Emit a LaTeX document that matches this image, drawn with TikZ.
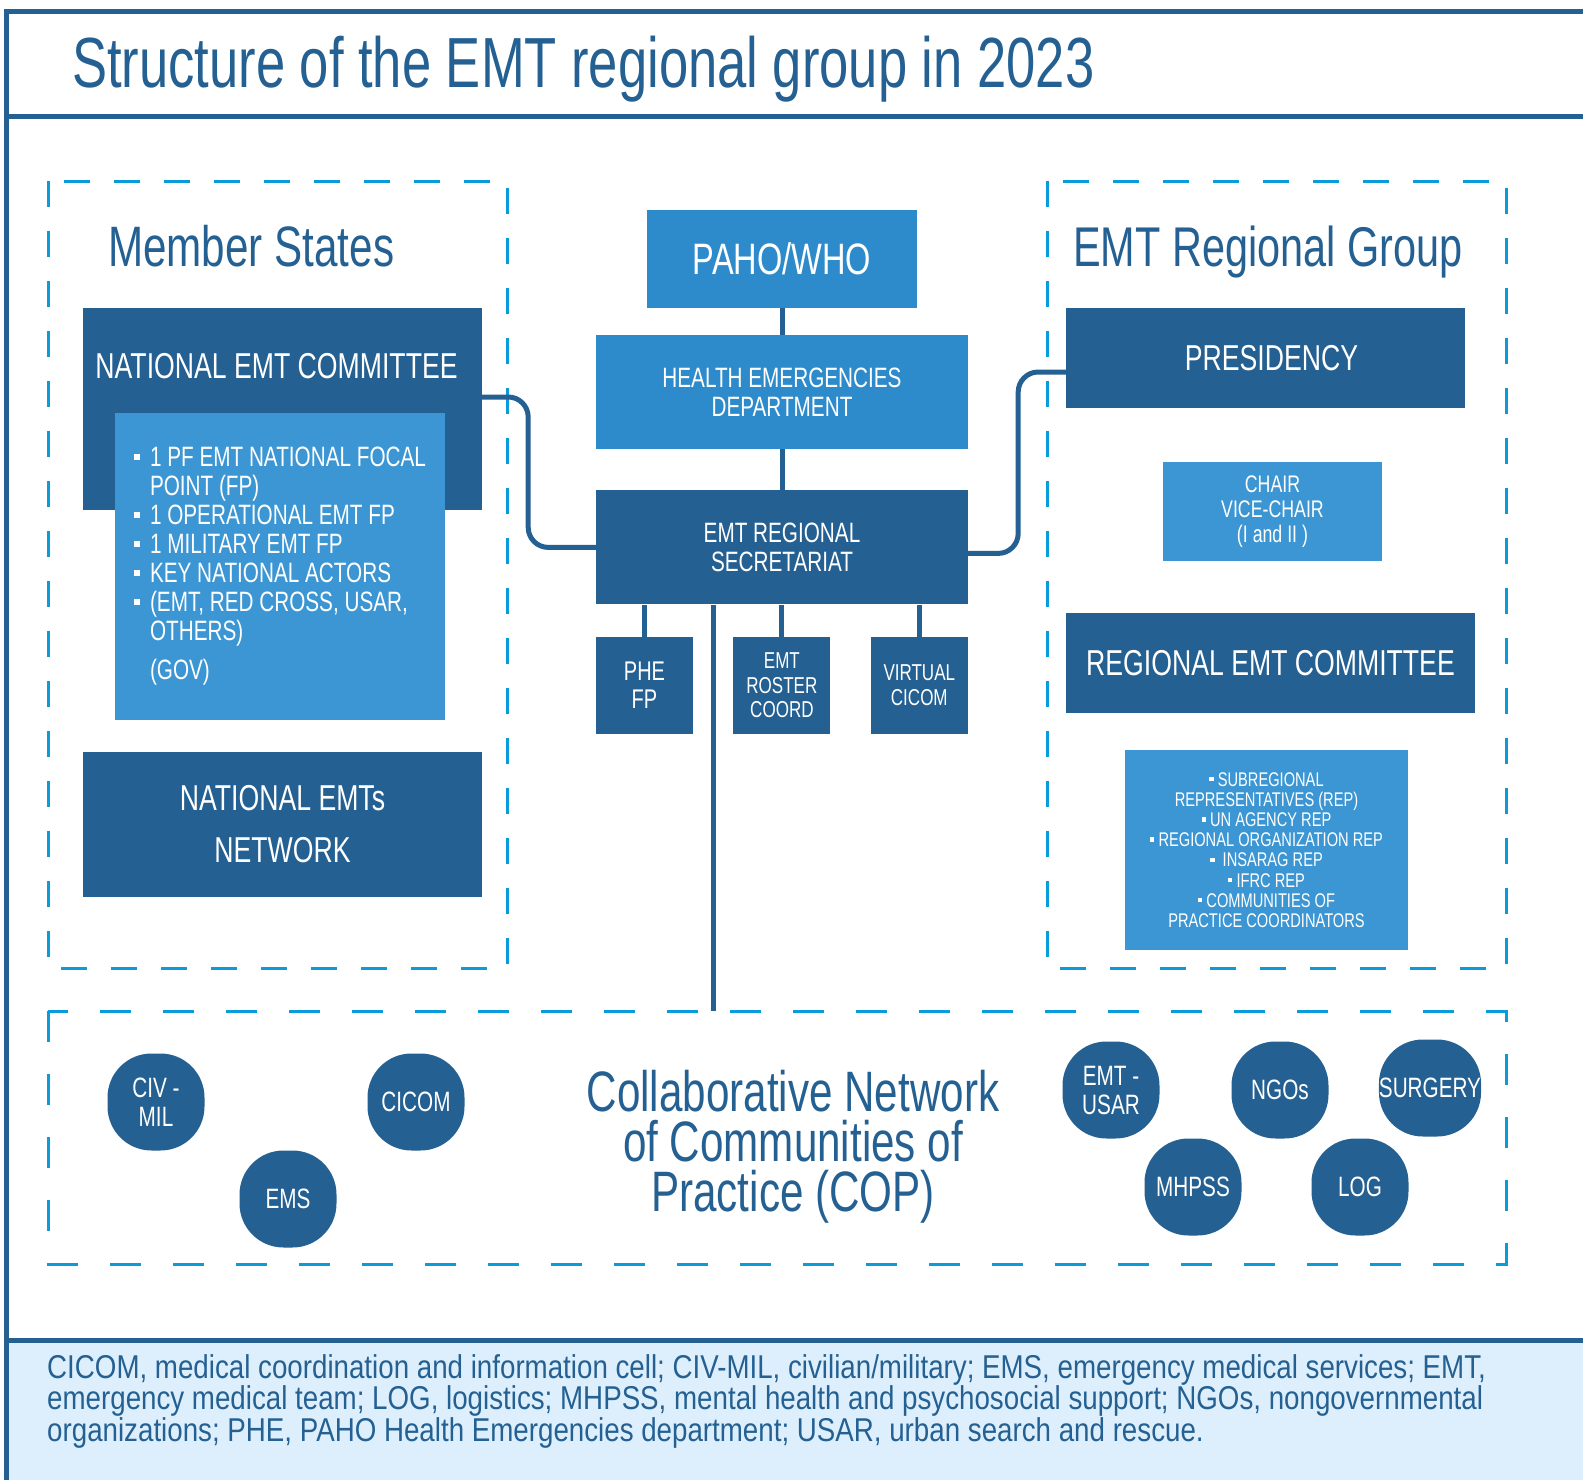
\documentclass[tikz,border=0pt]{standalone}
\usepackage{fontspec}
\setmainfont{Liberation Sans}[FakeStretch=0.74]
\newfontfamily\legendfont{Liberation Sans}[FakeStretch=0.84]
\usetikzlibrary{positioning}
\definecolor{emtdark}{RGB}{36,96,146}
\definecolor{emtmid}{RGB}{59,150,211}
\definecolor{emtpaho}{RGB}{46,139,203}
\definecolor{emtdash}{RGB}{10,155,219}
\definecolor{emtlegend}{RGB}{221,239,252}
\newcommand{\fs}[2]{\fontsize{#1}{#2}\selectfont}
\newcommand{\sq}{\raisebox{0.25em}{\rule{0.22em}{0.22em}}}
\newcommand{\bul}{\makebox[16pt][l]{\sq}}

\begin{document}
\begin{tikzpicture}[x=1pt, y=-1pt,
  darkbox/.style={fill=emtdark, text=white, inner sep=0pt, align=center},
  midbox/.style={fill=emtmid, text=white, inner sep=0pt, align=center},
  pahobox/.style={fill=emtpaho, text=white, inner sep=0pt, align=center},
  groupbox/.style={draw=emtdash, line width=3pt, dash pattern=on 26pt off 24pt},
  copbox/.style={draw=emtdash, line width=3pt, dash pattern=on 31pt off 32pt},
  link/.style={draw=emtdark, line width=5pt},
  frame/.style={draw=emtdark, line width=5pt},
  copcircle/.style={fill=emtdark, text=white, minimum size=97pt, inner sep=0pt, rounded corners=44pt, align=center, font=\fs{28}{29}},
  heading/.style={text=emtdark, inner sep=0pt, anchor=base west}
]
\useasboundingbox (0,0) rectangle (1583,1480);
\fill[emtlegend] (6,1340) rectangle (1583,1480);
\draw[frame] (6,12) -- (1583,12);
\draw[frame] (6,116) -- (1583,116);
\draw[frame] (6,1340) -- (1583,1340);
\draw[frame] (6,9.5) -- (6,1480);

\node[heading, font=\fs{71}{80}] (title) at (72,88) {Structure of the EMT regional group in 2023};

\draw[groupbox] (48,181) rectangle (507,968);
\draw[groupbox] (1047,181) rectangle (1506,968);
\draw[copbox] (48,1011) rectangle (1506,1264);

\node[heading, font=\fs{57}{60}] (ms) at (108,266) {Member States};
\node[heading, font=\fs{56}{60}] (rg) at (1073,266) {EMT Regional Group};

\node[darkbox, minimum width=399pt, text height=70pt, text depth=132pt, font=\fs{36}{40}] (natcom) at (282.5,409) {NATIONAL EMT COMMITTEE\hspace*{12pt}};
\node[midbox, minimum width=330pt, minimum height=307pt, align=left, font=\fs{28}{29}] (natlist) at (280,566.5) {\bul 1 PF EMT NATIONAL FOCAL\\ \hspace*{16pt}POINT (FP)\\ \bul 1 OPERATIONAL EMT FP\\ \bul 1 MILITARY EMT FP\\ \bul KEY NATIONAL ACTORS\\ \bul (EMT, RED CROSS, USAR,\\ \hspace*{16pt}OTHERS)\\[10pt] \hspace*{16pt}(GOV)};
\node[darkbox, minimum width=399pt, minimum height=145pt, font=\fs{36}{52}] (natnet) at (282.5,824.5) {NATIONAL EMTs\\NETWORK};

\node[pahobox, minimum width=372pt, minimum height=114pt, font=\fs{28}{29}] (hed) at (782,392) {HEALTH EMERGENCIES\\DEPARTMENT};
\node[pahobox, minimum width=270pt, minimum height=98pt, font=\fs{44}{48}, above=27pt of hed] (paho) {PAHO/WHO};
\node[darkbox, minimum width=372pt, minimum height=114pt, font=\fs{28}{29}, below=41pt of hed] (sec) {EMT REGIONAL\\SECRETARIAT};
\node[darkbox, minimum size=97pt, font=\fs{27}{28}, below right=32pt and 0pt of sec.south west] (phe) {PHE\\FP};
\node[darkbox, minimum size=97pt, font=\fs{23}{24.5}, right=40pt of phe] (roster) {EMT\\ROSTER\\COORD};
\node[darkbox, minimum size=97pt, font=\fs{23}{25}, right=40pt of roster] (vcicom) {VIRTUAL\\CICOM};

\node[darkbox, minimum width=399pt, minimum height=100pt, font=\fs{36}{40}] (pres) at (1265.5,358) {\hspace*{12pt}PRESIDENCY};
\node[midbox, minimum width=219pt, minimum height=99pt, font=\fs{24}{25}] (chair) at (1272.5,511.5) {CHAIR\\VICE-CHAIR\\(I and II )};
\node[darkbox, minimum width=409pt, minimum height=100pt, font=\fs{36}{40}] (regcom) at (1270.5,663) {REGIONAL EMT COMMITTEE};
\node[midbox, minimum width=283pt, minimum height=200pt, font=\fs{19.8}{20.2}] (reglist) at (1266.5,850) {\sq\ SUBREGIONAL\\REPRESENTATIVES (REP)\\\sq\ UN AGENCY REP\\\sq\ REGIONAL ORGANIZATION REP\\\sq\ \ INSARAG REP\\\sq\ IFRC REP\\\sq\ COMMUNITIES OF\\PRACTICE COORDINATORS};

\draw[link] (paho) -- (hed);
\draw[link] (hed) -- (sec);
\foreach \b in {phe, roster, vcicom}
  \draw[link] (\b) -- (\b |- sec.south);
\coordinate (copin) at (713,1011);
\draw[link] (sec.south -| copin) -- (copin);
\draw[link, rounded corners=20pt] ([yshift=12pt]natcom.east) -- ++(46,0) |- (sec.west);
\draw[link, rounded corners=20pt] ([yshift=-6pt]sec.east) -- ++(50,0) |- ([yshift=-14pt]pres.west);

\node[copcircle] (civmil) at (156,1102) {CIV -\\MIL};
\node[copcircle] (cicom) at (416,1102) {CICOM};
\node[copcircle] (ems) at (288,1199) {EMS};
\node[copcircle] (emtusar) at (1111,1090) {EMT -\\USAR};
\node[copcircle] (ngos) at (1280,1090) {NGOs};
\node[copcircle] (surgery) at (1430,1088) {SURGERY};
\node[copcircle] (mhpss) at (1193,1187) {MHPSS};
\node[copcircle] (log) at (1360,1187) {LOG};
\node[text=emtdark, align=center, inner sep=0pt, font=\fs{57}{50}] (copname) at (793,1147) {Collaborative Network\\of Communities of\\Practice (COP)};

\node[anchor=north west, inner sep=0pt, align=left, text=emtdark, font=\legendfont\fs{33}{31.5}] (legend) at (47,1354) {CICOM, medical coordination and information cell; CIV-MIL, civilian/military; EMS, emergency medical services; EMT,\\emergency medical team; LOG, logistics; MHPSS, mental health and psychosocial support; NGOs, nongovernmental\\organizations; PHE, PAHO Health Emergencies department; USAR, urban search and rescue.};
\end{tikzpicture}
\end{document}
